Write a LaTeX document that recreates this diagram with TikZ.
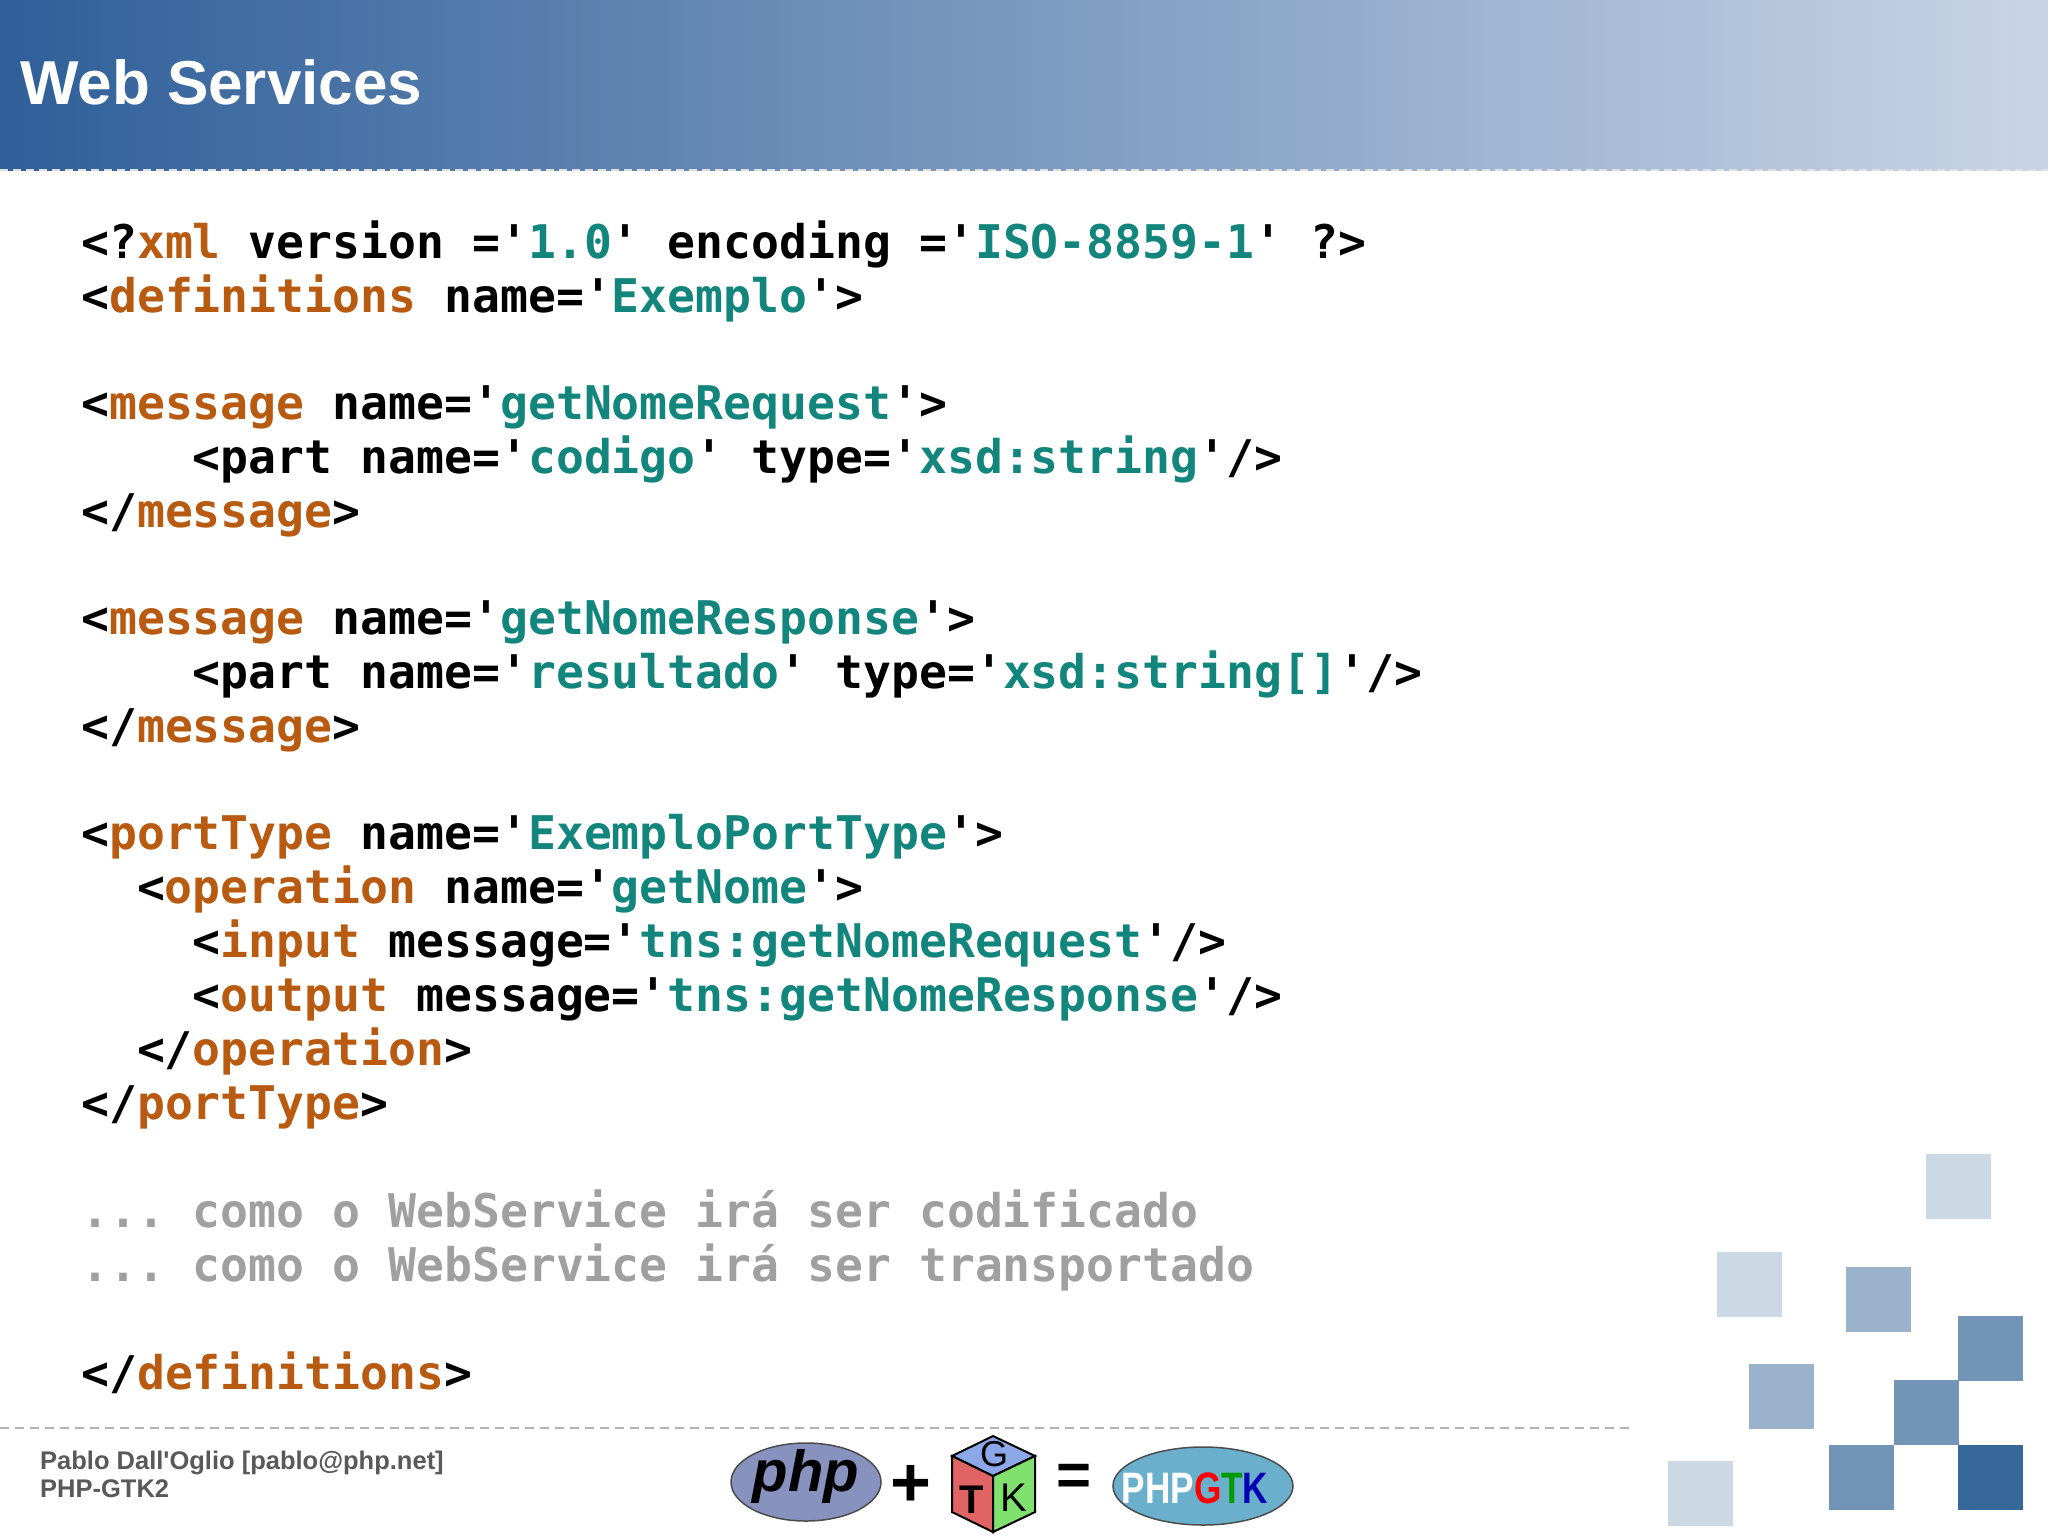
\documentclass[tikz,border=0pt]{standalone}
\usepackage{fontspec}
\setmainfont{Liberation Sans}
\newfontfamily\codefont{DejaVu Sans Mono Bold}
\usetikzlibrary{shapes.geometric}
\definecolor{tagc}{HTML}{B85A10}
\definecolor{valc}{HTML}{12857D}
\definecolor{cmtc}{HTML}{A0A0A0}
\definecolor{lightsq}{HTML}{CBD9E5}
\definecolor{medsq}{HTML}{9AB2CB}
\definecolor{darksq}{HTML}{7294B7}
\definecolor{darkestsq}{HTML}{366899}
\definecolor{hdrL}{HTML}{2F5F99}
\definecolor{hdrR}{HTML}{C9D5E7}
\newcommand{\Tg}[1]{\textcolor{tagc}{#1}}
\newcommand{\Vl}[1]{\textcolor{valc}{#1}}
\frenchspacing
\begin{document}
\begin{tikzpicture}[x=1pt,y=-1pt,
  code/.style={anchor=base west,inner sep=0pt,font=\codefont\fontsize{46.4}{50}\selectfont\frenchspacing},
  foot/.style={anchor=base west,inner sep=0pt,text=black!65,font=\bfseries\fontsize{25.5}{28}\selectfont},
  sq/.style={draw=none}]
\useasboundingbox (0,0) rectangle (2048,1535);
\fill[white] (0,0) rectangle (2048,1535);
\shade[left color=hdrL,right color=hdrR] (0,0) rectangle (2048,170);
\draw[white!75!gray,line width=1.5pt,dash pattern=on 8pt off 5pt] (0,170) -- (2048,170);
\node[anchor=base west,inner sep=0pt,text=white,font=\bfseries\fontsize{62}{70}\selectfont] (title) at (20,104) {Web Services};
% code
\def\cx{81}\def\cw{27.93}
\node[code] (l1) at (\cx,258) {<?\Tg{xml} version ='\Vl{1.0}' encoding ='\Vl{ISO-8859-1}' ?>};
\node[code] (l2) at (\cx,312) {<\Tg{definitions} name='\Vl{Exemplo}'>};
\node[code] (l3) at (\cx,419) {<\Tg{message} name='\Vl{getNomeRequest}'>};
\node[code] (l4) at (\cx+4*\cw,473) {<part name='\Vl{codigo}' type='\Vl{xsd:string}'/>};
\node[code] (l5) at (\cx,527) {</\Tg{message}>};
\node[code] (l6) at (\cx,634) {<\Tg{message} name='\Vl{getNomeResponse}'>};
\node[code] (l7) at (\cx+4*\cw,688) {<part name='\Vl{resultado}' type='\Vl{xsd:string[]}'/>};
\node[code] (l8) at (\cx,742) {</\Tg{message}>};
\node[code] (l9) at (\cx,849) {<\Tg{portType} name='\Vl{ExemploPortType}'>};
\node[code] (l10) at (\cx+2*\cw,903) {<\Tg{operation} name='\Vl{getNome}'>};
\node[code] (l11) at (\cx+4*\cw,957) {<\Tg{input} message='\Vl{tns:getNomeRequest}'/>};
\node[code] (l12) at (\cx+4*\cw,1011) {<\Tg{output} message='\Vl{tns:getNomeResponse}'/>};
\node[code] (l13) at (\cx+2*\cw,1065) {</\Tg{operation}>};
\node[code] (l14) at (\cx,1119) {</\Tg{portType}>};
\node[code,text=cmtc] (l15) at (\cx,1227) {... como o WebService irá ser codificado};
\node[code,text=cmtc] (l16) at (\cx,1281) {... como o WebService irá ser transportado};
\node[code] (l17) at (\cx,1389) {</\Tg{definitions}>};
% footer
\draw[black!30,line width=2pt,dash pattern=on 9pt off 6pt] (0,1428) -- (1630,1428);
\node[foot] (f1) at (40,1469) {Pablo Dall\textquotesingle Oglio [pablo@php.net]};
\node[foot] (f2) at (40,1497) {PHP-GTK2};
% squares
\fill[lightsq] (1926,1154) rectangle +(65,65);
\fill[lightsq] (1717,1252) rectangle +(65,65);
\fill[medsq] (1846,1267) rectangle +(65,65);
\fill[darksq] (1958,1316) rectangle +(65,65);
\fill[medsq] (1749,1364) rectangle +(65,65);
\fill[darksq] (1894,1380) rectangle +(65,65);
\fill[lightsq] (1668,1461) rectangle +(65,65);
\fill[darksq] (1829,1445) rectangle +(65,65);
\fill[darkestsq] (1958,1445) rectangle +(65,65);
% logos
\node[ellipse,draw=black!70,line width=1.5pt,fill={rgb,255:red,136;green,146;blue,191},minimum width=150pt,minimum height=78pt,inner sep=0pt] (php) at (806,1482) {};
\node[font=\bfseries\itshape\fontsize{58}{60}\selectfont] (phpt) at (806,1476) {php};
\node[font=\bfseries\fontsize{70}{70}\selectfont] (plus) at (911,1486) {+};
\filldraw[draw=black,line width=2pt,fill={rgb,255:red,140;green,168;blue,232}] (993,1436) -- (1035,1456) -- (993,1476) -- (952,1456) -- cycle;
\filldraw[draw=black,line width=2pt,fill={rgb,255:red,224;green,100;blue,100}] (952,1456) -- (993,1476) -- (993,1532) -- (952,1512) -- cycle;
\filldraw[draw=black,line width=2pt,fill={rgb,255:red,128;green,225;blue,110}] (993,1476) -- (1035,1456) -- (1035,1512) -- (993,1532) -- cycle;
\node[font=\fontsize{36}{36}\selectfont] (gg) at (994,1454) {G};
\node[font=\bfseries\fontsize{40}{40}\selectfont] (gt) at (972,1500) {T};
\node[font=\fontsize{40}{40}\selectfont] (gk) at (1014,1498) {K};
\node[font=\bfseries\fontsize{60}{60}\selectfont] (eq) at (1074,1480) {=};
\node[ellipse,draw=black!70,line width=1.5pt,fill={rgb,255:red,106;green,176;blue,204},minimum width=180pt,minimum height=78pt,inner sep=0pt] (pg) at (1203,1486) {};
\node[font=\bfseries\fontsize{44}{44}\selectfont,inner sep=0pt,xscale=0.8] (pgt) at (1195,1488)
  {\textcolor{white}{PHP}\textcolor{red}{G}\textcolor{green!60!black}{T}\textcolor{blue!70!black}{K}};
\end{tikzpicture}
\end{document}
